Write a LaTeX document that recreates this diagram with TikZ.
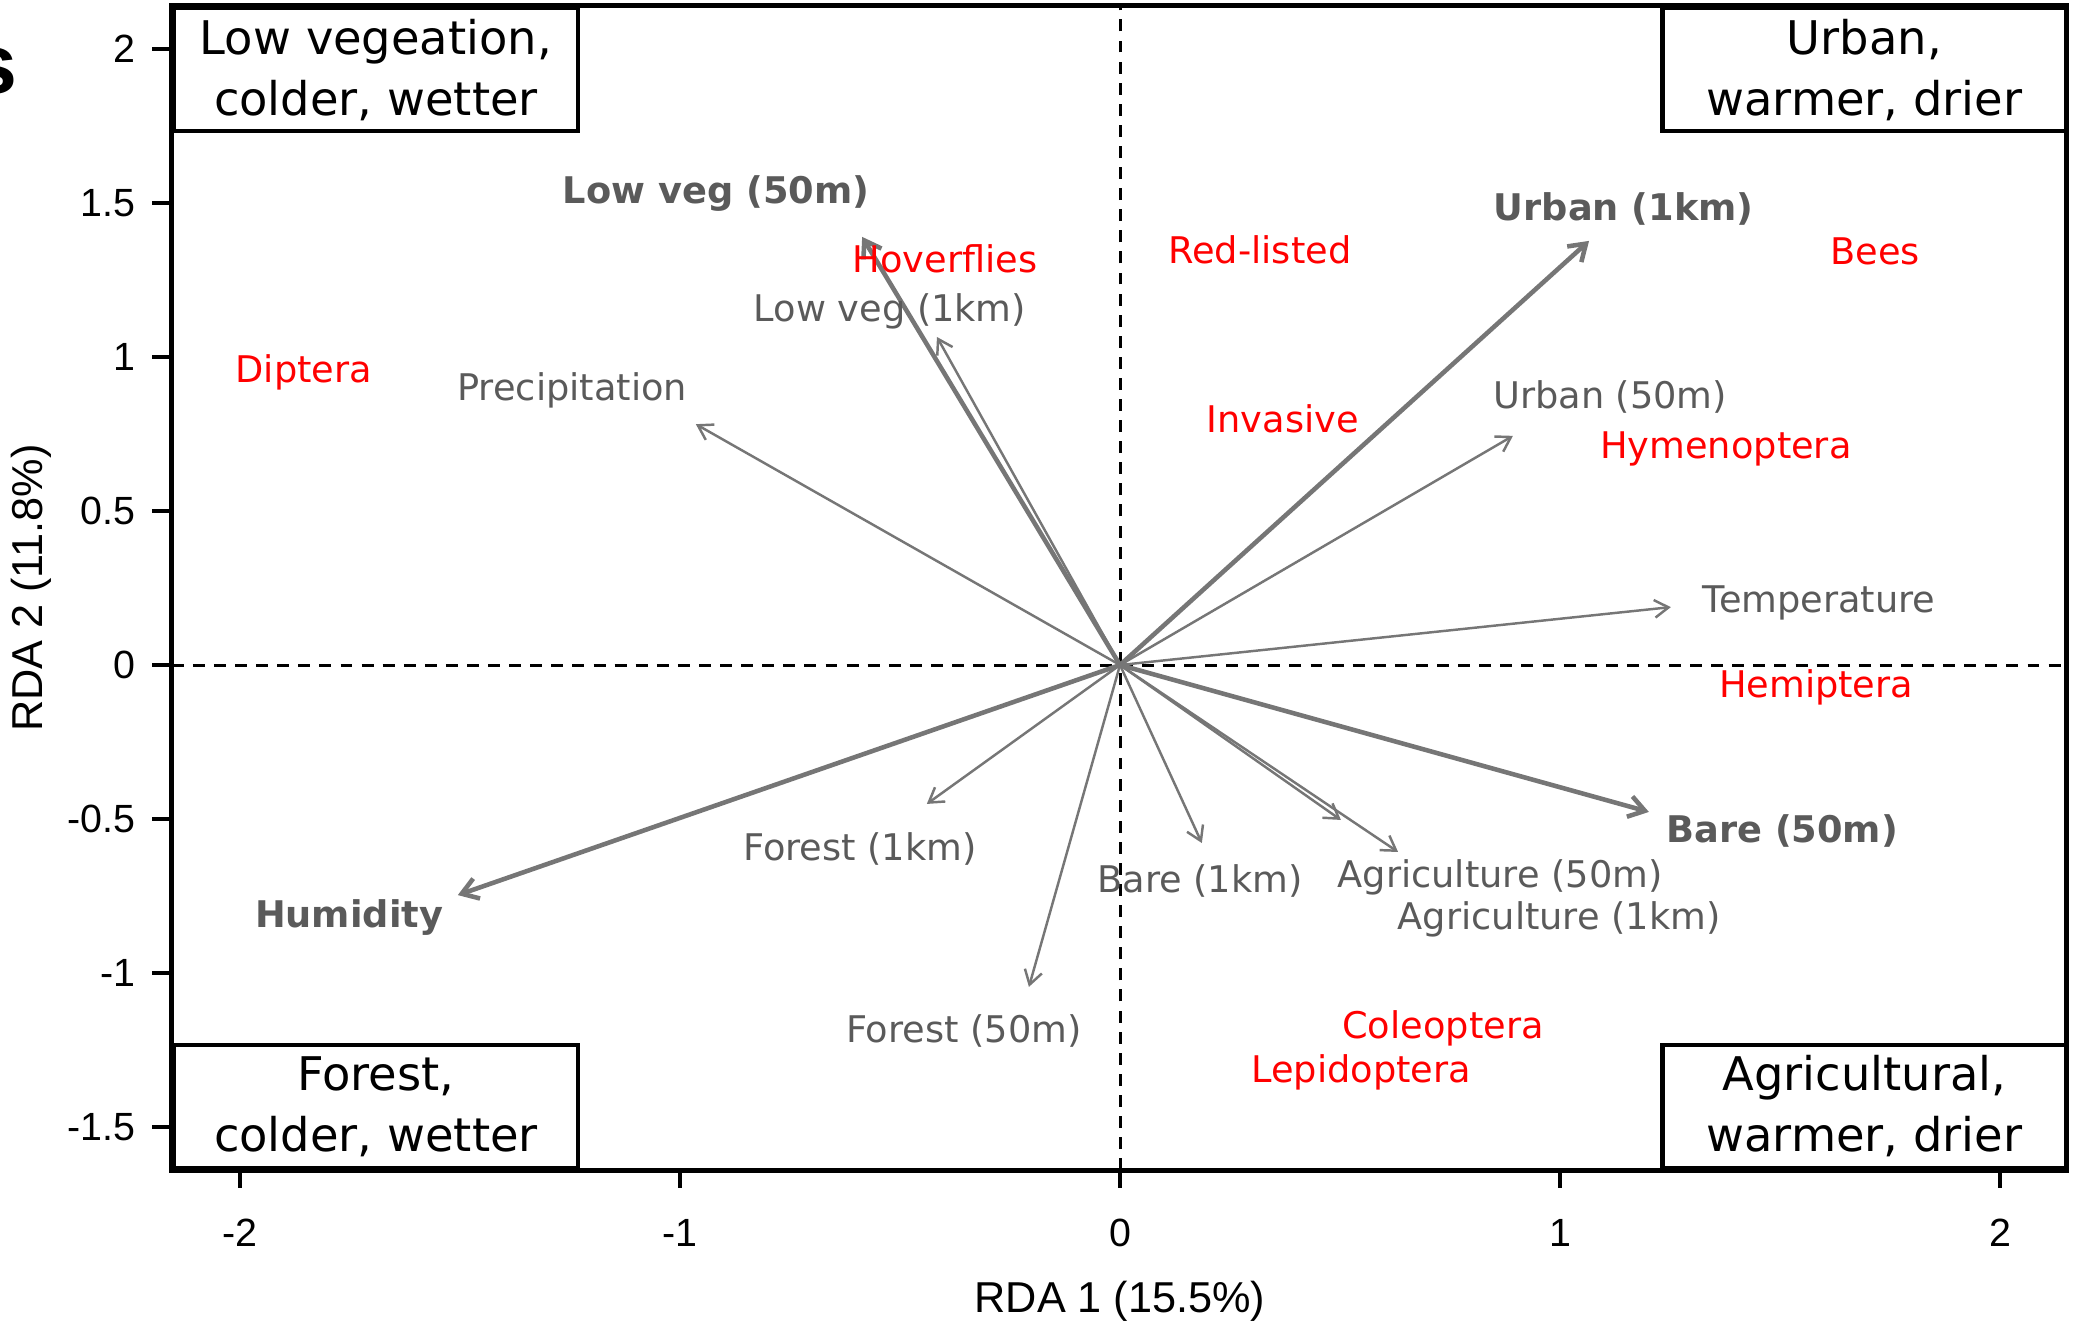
\documentclass[tikz,border=0pt]{standalone}
\usepackage{fontspec}
\setmainfont{DejaVu Sans}
\newfontfamily\arialfont{Liberation Sans}
\usetikzlibrary{arrows.meta,positioning}
\definecolor{labgray}{RGB}{90,90,90}
\definecolor{arrgray}{RGB}{118,118,118}
\begin{document}
\begin{tikzpicture}[x=4.4cm, y=3.08cm,
    thinvec/.style={draw=arrgray, line width=0.7pt, -{Straight Barb[length=4pt,width=5pt]}},
    thickvec/.style={draw=arrgray, line width=1.3pt, -{Straight Barb[length=4.5pt,width=6pt]}},
    lab/.style={text=labgray, anchor=base, inner sep=0pt, font=\fontsize{10.45}{12}\selectfont},
    boldlab/.style={lab, font=\fontsize{10.45}{12}\selectfont\bfseries},
    taxon/.style={lab, text=red},
    quad/.style={draw, fill=white, line width=1.3pt, minimum width=4.04cm, minimum height=1.23cm,
        align=center, inner sep=0pt, font=\fontsize{13.2}{17.4}\selectfont},
    tick/.style={line width=1.1pt},
    ynum/.style={anchor=east, inner sep=0pt, xshift=-1.5mm, font=\arialfont\fontsize{11.2}{13}\selectfont},
    xnum/.style={anchor=north, inner sep=0pt, yshift=-2.9mm, font=\arialfont\fontsize{11.2}{13}\selectfont},
    axtitle/.style={anchor=base, inner sep=0pt, font=\arialfont\fontsize{12.3}{14}\selectfont}]
    \useasboundingbox (-2.5455,-2.1461) rectangle (2.1682,2.1591);
    \node[anchor=base east, inner sep=0pt, font=\arialfont\fontsize{24}{28}\selectfont\bfseries] (panel) at (-2.505,1.854) {s};
    % zero lines
    \draw[line width=0.85pt, dash pattern=on 3.4pt off 2.6pt] (0,-1.640) -- (0,2.140);
    \draw[line width=0.85pt, dash pattern=on 3.4pt off 2.6pt] (-2.155,0) -- (2.152,0);
    % environmental vectors
    \coordinate (o) at (0,0);
    \coordinate (lv50) at (-0.586,1.390);
    \coordinate (lv1) at (-0.416,1.065);
    \coordinate (prec) at (-0.964,0.782);
    \coordinate (urb1) at (1.066,1.377);
    \coordinate (urb50) at (0.893,0.744);
    \coordinate (temp) at (1.252,0.188);
    \coordinate (bare50) at (1.202,-0.477);
    \coordinate (agr50) at (0.502,-0.503);
    \coordinate (agr1) at (0.632,-0.607);
    \coordinate (bare1) at (0.186,-0.578);
    \coordinate (for50) at (-0.207,-1.045);
    \coordinate (for1) at (-0.439,-0.451);
    \coordinate (hum) at (-1.505,-0.747);
    \draw[thinvec] (o) -- (lv1);
    \draw[thinvec] (o) -- (prec);
    \draw[thinvec] (o) -- (urb50);
    \draw[thinvec] (o) -- (temp);
    \draw[thinvec] (o) -- (agr50);
    \draw[thinvec] (o) -- (agr1);
    \draw[thinvec] (o) -- (bare1);
    \draw[thinvec] (o) -- (for50);
    \draw[thinvec] (o) -- (for1);
    \draw[thickvec] (o) -- (lv50);
    \draw[thickvec] (o) -- (urb1);
    \draw[thickvec] (o) -- (bare50);
    \draw[thickvec] (o) -- (hum);
    \node[boldlab] (lv50lab) at (-0.918,1.500) {Low veg (50m)};
    \node[lab] (lv1lab) at (-0.523,1.114) {Low veg (1km)};
    \node[lab] (preclab) at (-1.245,0.860) {Precipitation};
    \node[boldlab] (urb1lab) at (1.145,1.442) {Urban (1km)};
    \node[lab] (urb50lab) at (1.114,0.834) {Urban (50m)};
    \node[lab] (templab) at (1.589,0.169) {Temperature};
    \node[boldlab] (bare50lab) at (1.505,-0.575) {Bare (50m)};
    \node[lab] (agr50lab) at (0.864,-0.721) {Agriculture (50m)};
    \node[lab] (agr1lab) at (0.998,-0.860) {Agriculture (1km)};
    \node[lab] (bare1lab) at (0.182,-0.737) {Bare (1km)};
    \node[lab] (for1lab) at (-0.591,-0.636) {Forest (1km)};
    \node[lab] (for50lab) at (-0.355,-1.224) {Forest (50m)};
    \node[boldlab] (humlab) at (-1.752,-0.851) {Humidity};
    % taxa
    \node[taxon] (hover) at (-0.398,1.276) {Hoverflies};
    \node[taxon] (dipt) at (-1.855,0.916) {Diptera};
    \node[taxon] (redl) at (0.318,1.305) {Red-listed};
    \node[taxon] (inv) at (0.370,0.756) {Invasive};
    \node[taxon] (bees) at (1.716,1.299) {Bees};
    \node[taxon] (hymen) at (1.377,0.672) {Hymenoptera};
    \node[taxon] (hemi) at (1.582,-0.107) {Hemiptera};
    \node[taxon] (coleo) at (0.734,-1.211) {Coleoptera};
    \node[taxon] (lepi) at (0.548,-1.354) {Lepidoptera};
    % corner boxes
    \node[quad] (lowveg) at (-1.691,1.933) {Low vegeation,\\colder, wetter};
    \node[quad] (urban) at (1.692,1.933) {Urban,\\warmer, drier};
    \node[quad] (forest) at (-1.691,-1.433) {Forest,\\colder, wetter};
    \node[quad] (agri) at (1.692,-1.433) {Agricultural,\\warmer, drier};
    % axes
    \draw[line width=1.4pt] (-2.155,-1.640) rectangle (2.152,2.140);
    \draw[tick] (-2.155,2) -- (-2.2,2) node[ynum] (y20) {2};
    \draw[tick] (-2.155,1.5) -- (-2.2,1.5) node[ynum] (y15) {1.5};
    \draw[tick] (-2.155,1) -- (-2.2,1) node[ynum] (y10) {1};
    \draw[tick] (-2.155,0.5) -- (-2.2,0.5) node[ynum] (y05) {0.5};
    \draw[tick] (-2.155,0) -- (-2.2,0) node[ynum] (y00) {0};
    \draw[tick] (-2.155,-0.5) -- (-2.2,-0.5) node[ynum] (ym05) {-0.5};
    \draw[tick] (-2.155,-1) -- (-2.2,-1) node[ynum] (ym10) {-1};
    \draw[tick] (-2.155,-1.5) -- (-2.2,-1.5) node[ynum] (ym15) {-1.5};
    \draw[tick] (-2,-1.640) -- (-2,-1.698) node[xnum] (xm2) {-2};
    \draw[tick] (-1,-1.640) -- (-1,-1.698) node[xnum] (xm1) {-1};
    \draw[tick] (0,-1.640) -- (0,-1.698) node[xnum] (x0) {0};
    \draw[tick] (1,-1.640) -- (1,-1.698) node[xnum] (x1) {1};
    \draw[tick] (2,-1.640) -- (2,-1.698) node[xnum] (x2) {2};
    \node[axtitle] (xtitle) at (0,-2.101) {RDA 1 (15.5\%)};
    \node[axtitle, rotate=90] (ytitle) at (-2.448,0.25) {RDA 2 (11.8\%)};
\end{tikzpicture}
\end{document}
